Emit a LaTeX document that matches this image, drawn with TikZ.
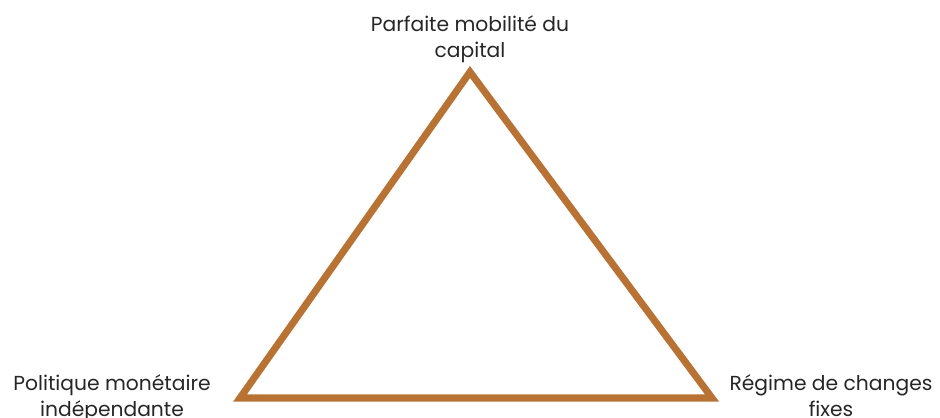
\documentclass[tikz,border=0pt]{standalone}
\usepackage{fontspec}
\setmainfont{Poppins}
\definecolor{tribrown}{RGB}{184,115,52}
\definecolor{labelgray}{RGB}{38,38,38}
\begin{document}
\begin{tikzpicture}[x=0.75pt,y=-0.75pt,
  lbl/.style={align=center,text=labelgray,font=\fontsize{15.2pt}{19.5pt}\selectfont,inner sep=0pt},
  tri/.style={draw=tribrown,line width=5.3pt,line join=miter}]
\useasboundingbox (0,0) rectangle (940,418);
\coordinate (top) at (470,72);
\coordinate (bl) at (240,398);
\coordinate (br) at (712,398);
\draw[tri] (top) -- (bl) -- (br) -- cycle;
\node[lbl] (ltop) at (470,39) {Parfaite mobilité du\\capital};
\node[lbl] (lleft) at (112,398) {Politique monétaire\\indépendante};
\node[lbl] (lright) at (831,396) {Régime de changes\\fixes};
\end{tikzpicture}
\end{document}
